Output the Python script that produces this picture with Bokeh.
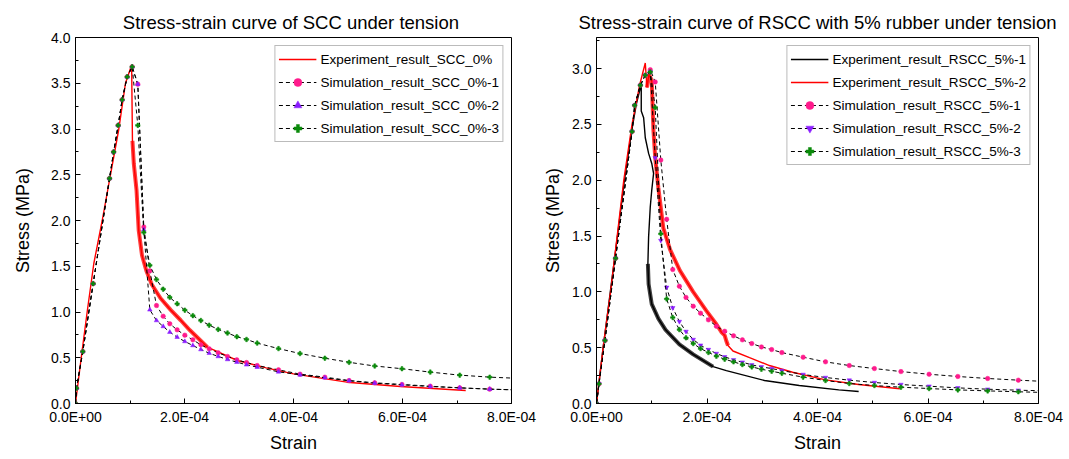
import numpy as np
from bokeh.plotting import figure
from bokeh.layouts import row
from bokeh.models import FixedTicker, CustomJSTickFormatter, PrintfTickFormatter, Range1d
from bokeh.embed import file_html
from bokeh.resources import INLINE

# ---------------- data (strain values given in units of 1e-4) ----------------
# Left: SCC 0%
scc_exp_strain = [0, 0.105, 0.214, 0.336, 0.49, 0.642, 0.795, 0.917, 1.03, 1.045, 1.07, 1.12,
                  1.16, 1.22, 1.30, 1.40, 1.56, 1.75, 1.93, 2.10, 2.42, 2.97, 3.5, 4.0, 4.98, 5.96, 7.16]
scc_exp_stress = [0, 0.5, 1.0, 1.53, 2.0, 2.5, 3.0, 3.5, 3.70, 2.87, 2.62, 2.33,
                  1.89, 1.62, 1.45, 1.30, 1.15, 1.02, 0.91, 0.80, 0.615, 0.47, 0.39, 0.324, 0.233, 0.186, 0.142]

scc_sim_strain = [0.0, 0.018, 0.134, 0.324, 0.624, 0.70, 0.783, 0.856, 0.948, 1.04,
                  1.143, 1.253, 1.364, 1.486, 1.609, 1.73, 1.865, 2.006, 2.153, 2.30, 2.453, 2.618,
                  2.789, 2.96, 3.138, 3.334, 3.725, 4.12, 4.575, 5.02, 5.49, 5.99, 6.51, 7.05, 7.60, 8.0]
scc_sim1_stress = [0, 0.167, 0.568, 1.31, 2.46, 2.75, 3.04, 3.32, 3.57, 3.68,
                   3.49, 1.93, 1.45, 1.071, 0.954, 0.871, 0.805, 0.747, 0.696, 0.641, 0.597, 0.554,
                   0.514, 0.477, 0.448, 0.415, 0.368, 0.321, 0.288, 0.251, 0.226, 0.208, 0.189, 0.171, 0.157, 0.15]
scc_sim2_stress = [0, 0.167, 0.568, 1.31, 2.46, 2.75, 3.04, 3.32, 3.57, 3.68,
                   3.49, 1.90, 1.024, 0.907, 0.842, 0.780, 0.725, 0.678, 0.634, 0.590, 0.550, 0.514,
                   0.481, 0.452, 0.423, 0.397, 0.346, 0.313, 0.281, 0.248, 0.222, 0.204, 0.186, 0.171, 0.157, 0.15]
scc_sim3_stress = [0, 0.167, 0.568, 1.31, 2.46, 2.75, 3.04, 3.32, 3.57, 3.68,
                   3.04, 1.87, 1.51, 1.355, 1.25, 1.16, 1.09, 1.02, 0.96, 0.907, 0.856, 0.81,
                   0.77, 0.73, 0.70, 0.66, 0.60, 0.546, 0.495, 0.45, 0.41, 0.38, 0.343, 0.31, 0.288, 0.278]

# Right: RSCC 5%
rscc_exp1_strain = [0, 0.12, 0.25, 0.40, 0.50, 0.64, 0.72, 0.78, 0.81, 0.81,
                    0.853, 0.883, 0.943, 1.0, 1.033, 1.0, 0.973, 0.943, 0.93, 0.943,
                    1.0, 1.12, 1.25, 1.50, 1.75, 2.11, 2.35, 3.04, 3.67, 4.385, 4.745]
rscc_exp1_stress = [0, 0.5, 1.0, 1.58, 1.98, 2.45, 2.68, 2.80, 2.86, 2.62,
                    2.56, 2.38, 2.24, 2.15, 2.06, 1.91, 1.76, 1.49, 1.25, 1.07,
                    0.89, 0.76, 0.66, 0.53, 0.44, 0.33, 0.295, 0.206, 0.161, 0.122, 0.107]
rscc_exp2_strain = [0, 0.12, 0.255, 0.494, 0.643, 0.78, 0.883, 0.913, 0.95, 1.0, 1.03, 1.063,
                    1.12, 1.21, 1.33, 1.51, 1.75, 1.99, 2.17, 2.26, 2.32, 2.35, 2.38, 2.47,
                    2.77, 3.13, 3.55, 4.145, 4.745, 5.49]
rscc_exp2_stress = [0, 0.5, 1.0, 2.0, 2.5, 2.85, 3.05, 2.83, 2.95, 2.89, 2.45, 2.2,
                    1.93, 1.57, 1.38, 1.19, 1.0, 0.83, 0.71, 0.64, 0.61, 0.56, 0.52, 0.47,
                    0.41, 0.34, 0.28, 0.212, 0.17, 0.132]

rscc_sim_strain = [0, 0.045, 0.153, 0.345, 0.643, 0.691, 0.794, 0.883,
                   0.973, 1.063, 1.164, 1.27, 1.38, 1.50, 1.62, 1.751, 1.883, 2.026, 2.17, 2.32,
                   2.48, 2.64, 2.81, 2.985, 3.17, 3.355, 3.74, 4.145, 4.575, 5.03, 5.51, 6.02,
                   6.54, 7.08, 7.635, 8.0]
rscc_sim1_stress = [0, 0.176, 0.564, 1.30, 2.435, 2.67, 2.85, 2.94,
                    2.99, 2.88, 2.18, 1.65, 1.20, 1.05, 0.95, 0.871, 0.809, 0.749, 0.692, 0.647,
                    0.606, 0.570, 0.537, 0.507, 0.483, 0.456, 0.415, 0.373, 0.34, 0.313, 0.286, 0.262,
                    0.242, 0.224, 0.209, 0.20]
rscc_sim2_stress = [0, 0.176, 0.564, 1.30, 2.435, 2.67, 2.85, 2.94,
                    2.97, 2.2, 1.46, 1.04, 0.857, 0.734, 0.645, 0.573, 0.522, 0.483, 0.448, 0.418,
                    0.391, 0.37, 0.346, 0.328, 0.313, 0.295, 0.26, 0.233, 0.209, 0.188, 0.17, 0.155,
                    0.14, 0.128, 0.119, 0.115]
rscc_sim3_stress = [0, 0.176, 0.564, 1.30, 2.435, 2.67, 2.85, 2.94,
                    2.97, 2.65, 1.52, 0.937, 0.77, 0.662, 0.588, 0.537, 0.492, 0.457, 0.424, 0.397,
                    0.373, 0.349, 0.328, 0.307, 0.289, 0.271, 0.236, 0.206, 0.179, 0.161, 0.146, 0.134,
                    0.122, 0.113, 0.105, 0.10]

x_ticks = [0, 2e-4, 4e-4, 6e-4, 8e-4]
x_minor = [1e-4, 3e-4, 5e-4, 7e-4]
left_y_ticks = [0, 0.5, 1.0, 1.5, 2.0, 2.5, 3.0, 3.5, 4.0]
left_y_minor = [0.25, 0.75, 1.25, 1.75, 2.25, 2.75, 3.25, 3.75]
right_y_ticks = [0, 0.5, 1.0, 1.5, 2.0, 2.5, 3.0]
right_y_minor = [0.25, 0.75, 1.25, 1.75, 2.25, 2.75, 3.25]

FONT = "Liberation Sans"
MAG = "#ff1a8c"
PUR = "#8a1cff"
GRN = "#0a8a0a"

def sc(v):
    return np.array(v) * 1e-4

fmt_code = """
const s = tick.toExponential(1).toUpperCase();
const parts = s.split('E');
const e = parseInt(parts[1]);
const sign = e < 0 ? '-' : '+';
const ae = Math.abs(e).toString().padStart(2, '0');
return parts[0] + 'E' + sign + ae;
"""

def make_fig(title, w, left, right, ymax, yt, ym, ylab_standoff):
    p = figure(width=w, height=459, output_backend="svg", toolbar_location=None,
               x_range=Range1d(0, 8e-4), y_range=Range1d(0, ymax),
               min_border_left=left, min_border_right=right,
               min_border_top=37, min_border_bottom=56,
               x_axis_label="Strain", y_axis_label="Stress (MPa)")
    p.title.text = title
    p.title.align = "center"
    p.title.text_font = FONT
    p.title.text_font_size = "18.5px"
    p.title.text_font_style = "normal"
    p.title.text_color = "black"
    p.xgrid.visible = False
    p.ygrid.visible = False
    p.outline_line_color = "black"
    p.outline_line_alpha = 1.0
    p.outline_line_width = 1
    p.background_fill_color = "white"
    p.border_fill_color = "white"
    for ax in (p.xaxis[0], p.yaxis[0]):
        ax.major_tick_in = 5
        ax.major_tick_out = 0
        ax.minor_tick_in = 3
        ax.minor_tick_out = 0
        ax.axis_line_color = "black"
        ax.major_tick_line_color = "black"
        ax.minor_tick_line_color = "black"
        ax.major_label_text_font = FONT
        ax.major_label_text_font_size = "14px"
        ax.major_label_text_color = "black"
        ax.axis_label_text_font = FONT
        ax.axis_label_text_font_size = "18px"
        ax.axis_label_text_font_style = "normal"
        ax.axis_label_text_color = "black"
        ax.major_label_standoff = 5
    p.xaxis[0].ticker = FixedTicker(ticks=x_ticks, minor_ticks=x_minor)
    p.xaxis[0].formatter = CustomJSTickFormatter(code=fmt_code)
    p.xaxis[0].axis_label_standoff = 5
    p.yaxis[0].ticker = FixedTicker(ticks=yt, minor_ticks=ym)
    p.yaxis[0].formatter = PrintfTickFormatter(format="%.1f")
    p.yaxis[0].axis_label_standoff = ylab_standoff
    return p

def exp_line(p, xs, ys, color, label, band):
    x = sc(xs)
    y = np.array(ys)
    p.line(x, y, line_color=color, line_width=1.4, legend_label=label)
    # noisy post-peak part of the test record drawn as a wider band
    p.line(x[band[0]:band[1]], y[band[0]:band[1]], line_color=color, line_width=4, line_alpha=0.75)

def sim(p, xs, ys, color, marker, label):
    x = sc(xs)
    y = np.array(ys)
    p.line(x, y, line_color="black", line_width=1, line_dash="4 3", legend_label=label)
    p.scatter(x[:-1], y[:-1], marker=marker, size=4.5, fill_color=color, line_color=color,
              line_width=0.5, legend_label=label)

def style_legend(p, margin):
    lg = p.legend[0]
    lg.location = "top_right"
    lg.margin = margin
    lg.label_text_font = FONT
    lg.label_text_font_size = "13.5px"
    lg.label_text_color = "black"
    lg.glyph_width = 38
    lg.glyph_height = 20
    lg.label_height = 20
    lg.spacing = 3
    lg.padding = 3
    lg.label_standoff = 4
    lg.border_line_color = "#777777"
    lg.border_line_width = 1
    lg.background_fill_alpha = 1.0

# Left figure
p1 = make_fig("Stress-strain curve of SCC  under tension", 540, 75, 29, 4.0,
              left_y_ticks, left_y_minor, 15)
exp_line(p1, scc_exp_strain, scc_exp_stress, "red", "Experiment_result_SCC_0%", (9, 21))
sim(p1, scc_sim_strain, scc_sim1_stress, MAG, "circle", "Simulation_result_SCC_0%-1")
sim(p1, scc_sim_strain, scc_sim2_stress, PUR, "triangle", "Simulation_result_SCC_0%-2")
sim(p1, scc_sim_strain, scc_sim3_stress, GRN, "plus", "Simulation_result_SCC_0%-3")
style_legend(p1, 8)

# Right figure
p2 = make_fig("Stress-strain curve of RSCC with 5% rubber under tension", 529, 52, 31, 3.278,
              right_y_ticks, right_y_minor, 6)
exp_line(p2, rscc_exp1_strain, rscc_exp1_stress, "black", "Experiment_result_RSCC_5%-1", (18, 26))
exp_line(p2, rscc_exp2_strain, rscc_exp2_stress, "red", "Experiment_result_RSCC_5%-2", (7, 23))
sim(p2, rscc_sim_strain, rscc_sim1_stress, MAG, "circle", "Simulation_result_RSCC_5%-1")
sim(p2, rscc_sim_strain, rscc_sim2_stress, PUR, "inverted_triangle", "Simulation_result_RSCC_5%-2")
sim(p2, rscc_sim_strain, rscc_sim3_stress, GRN, "plus", "Simulation_result_RSCC_5%-3")
style_legend(p2, 8)

layout = row(p1, p2)
open("out.html", "w").write(file_html(layout, INLINE))
